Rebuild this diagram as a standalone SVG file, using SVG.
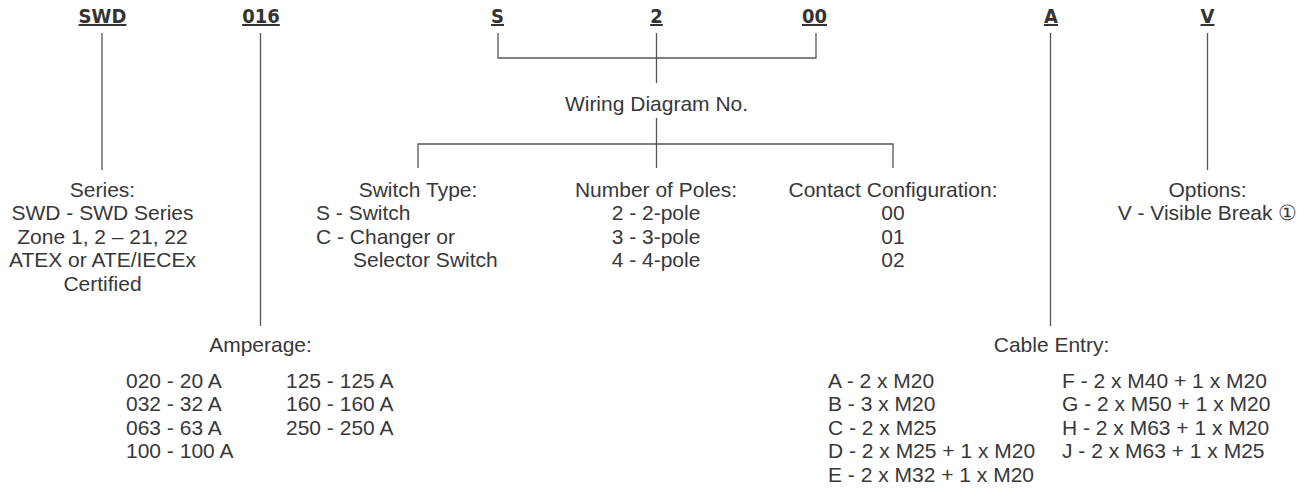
<svg xmlns="http://www.w3.org/2000/svg" width="1312" height="488" viewBox="0 0 1312 488">
<style>
.hd{font-family:"Liberation Sans Narrow","DejaVu Sans Condensed","Liberation Sans",sans-serif;font-weight:bold;font-size:20px;fill:#333;text-anchor:middle;text-decoration:underline}
.t{font-family:"Liberation Sans",Arial,Helvetica,sans-serif;font-size:21px;fill:#383838}
.c{text-anchor:middle}
.ln{stroke:#555;stroke-width:1.3;fill:none}
</style>
<rect width="1312" height="488" fill="#fff"/>
<g id="connectors">
<line class="ln" x1="102" y1="33" x2="102" y2="170"/>
<line class="ln" x1="260.5" y1="33" x2="260.5" y2="326"/>
<polyline class="ln" points="498,33 498,58 816,58 816,33"/>
<line class="ln" x1="656.5" y1="33" x2="656.5" y2="83"/>
<line class="ln" x1="656.5" y1="118" x2="656.5" y2="168"/>
<polyline class="ln" points="418,168 418,144 893,144 893,168"/>
<line class="ln" x1="1050.5" y1="33" x2="1050.5" y2="326"/>
<line class="ln" x1="1207.5" y1="33" x2="1207.5" y2="170"/>
</g>
<g id="code-swd"><text class="hd" x="102.5" y="23">SWD</text></g>
<g id="code-016"><text class="hd" x="261" y="23">016</text></g>
<g id="code-s"><text class="hd" x="497.5" y="23">S</text></g>
<g id="code-2"><text class="hd" x="656.5" y="23">2</text></g>
<g id="code-00"><text class="hd" x="814.5" y="23">00</text></g>
<g id="code-a"><text class="hd" x="1051" y="23">A</text></g>
<g id="code-v"><text class="hd" x="1207.5" y="23">V</text></g>
<g id="wiring"><text class="t c" x="656.5" y="111">Wiring Diagram No.</text></g>
<g id="series">
<text class="t c" x="102.5" y="196.5">Series:</text>
<text class="t c" x="102.5" y="220">SWD - SWD Series</text>
<text class="t c" x="102.5" y="243.5">Zone 1, 2 – 21, 22</text>
<text class="t c" x="102.5" y="267">ATEX or ATE/IECEx</text>
<text class="t c" x="102.5" y="290.5">Certified</text>
</g>
<g id="switch-type">
<text class="t c" x="418" y="196.5">Switch Type:</text>
<text class="t" x="316" y="220">S - Switch</text>
<text class="t" x="316" y="243.5">C - Changer or</text>
<text class="t" x="353" y="267">Selector Switch</text>
</g>
<g id="poles">
<text class="t c" x="656" y="196.5">Number of Poles:</text>
<text class="t c" x="656" y="220">2 - 2-pole</text>
<text class="t c" x="656" y="243.5">3 - 3-pole</text>
<text class="t c" x="656" y="267">4 - 4-pole</text>
</g>
<g id="contact">
<text class="t c" x="893" y="196.5">Contact Configuration:</text>
<text class="t c" x="893" y="220">00</text>
<text class="t c" x="893" y="243.5">01</text>
<text class="t c" x="893" y="267">02</text>
</g>
<g id="options">
<text class="t c" x="1207.5" y="196.5">Options:</text>
<text class="t c" x="1207.5" y="220">V - Visible Break ①</text>
</g>
<g id="amperage">
<text class="t c" x="260.5" y="352">Amperage:</text>
<text class="t" x="126" y="387.5">020 - 20 A</text>
<text class="t" x="126" y="411">032 - 32 A</text>
<text class="t" x="126" y="434.5">063 - 63 A</text>
<text class="t" x="126" y="458">100 - 100 A</text>
<text class="t" x="286" y="387.5">125 - 125 A</text>
<text class="t" x="286" y="411">160 - 160 A</text>
<text class="t" x="286" y="434.5">250 - 250 A</text>
</g>
<g id="cable-entry">
<text class="t c" x="1051.5" y="352">Cable Entry:</text>
<text class="t" x="828" y="387.5">A - 2 x M20</text>
<text class="t" x="828" y="411">B - 3 x M20</text>
<text class="t" x="828" y="434.5">C - 2 x M25</text>
<text class="t" x="828" y="458">D - 2 x M25 + 1 x M20</text>
<text class="t" x="828" y="481.5">E - 2 x M32 + 1 x M20</text>
<text class="t" x="1062" y="387.5">F - 2 x M40 + 1 x M20</text>
<text class="t" x="1062" y="411">G - 2 x M50 + 1 x M20</text>
<text class="t" x="1062" y="434.5">H - 2 x M63 + 1 x M20</text>
<text class="t" x="1062" y="458">J - 2 x M63 + 1 x M25</text>
</g>
</svg>
